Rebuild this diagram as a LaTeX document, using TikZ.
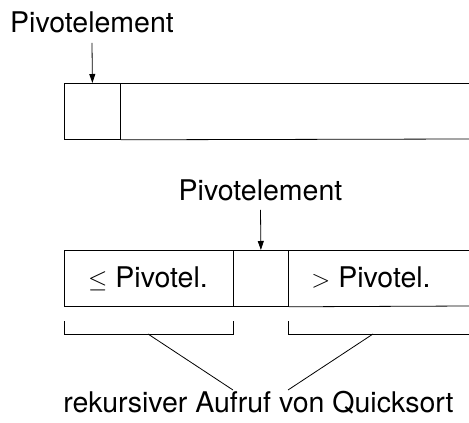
\documentclass[tikz,border=0pt]{standalone}
\usepackage{fontspec}
\setmainfont{TeX Gyre Heros}
\usetikzlibrary{arrows.meta}
\begin{document}
\begin{tikzpicture}[x=1pt,y=-1pt, line width=0.8pt,
  lbl/.style={font=\fontsize{28.5}{32}\selectfont, inner sep=0pt, anchor=base},
  cell/.style={draw, minimum height=56pt, inner sep=0pt, anchor=north west},
  arr/.style={-{Triangle[length=9pt,width=6pt]}}]
\useasboundingbox (0,0) rectangle (469,423);
% top row
\node[lbl] (t1) at (92,32) {Pivotelement};
\node[cell, minimum width=56pt] (p1) at (64,83) {};
\coordinate (e1t) at (469,83);
\coordinate (e1b) at (469,139);
\draw (p1.north east) -- (e1t);
\draw (p1.south east) -- (e1b);
\draw[arr] ([yshift=-10pt]t1.south) -- (p1.north);
% middle row
\node[lbl] (t2) at (260.5,200) {Pivotelement};
\node[cell, minimum width=169pt] (L) at (64,250) {};
\node[cell, minimum width=55pt] (p2) at (233,250) {};
\coordinate (e2t) at (469,250);
\coordinate (e2b) at (469,306);
\draw (p2.north east) -- (e2t);
\draw (p2.south east) -- (e2b);
\node[lbl] (lt) at (148,287) {$\leq$ Pivotel.};
\node[lbl] (rt) at (371,287) {$>$ Pivotel.};
\draw[arr] ([yshift=-9pt]t2.south) -- (p2.north);
% brackets
\coordinate (b1a) at (64,321);
\coordinate (b1b) at (233,321);
\coordinate (b2a) at (288,321);
\coordinate (b2e) at (469,334);
\draw (b1a) -- ++(0,13) -| (b1b);
\draw (b2a) -- ++(0,13) -- (b2e);
\coordinate (m1) at (148,334);
\coordinate (m2) at (373,334);
\node[lbl] (bt) at (258.5,412) {rekursiver Aufruf von Quicksort};
\coordinate (c1) at (233,390);
\coordinate (c2) at (288,390);
\draw (m1) -- (c1);
\draw (m2) -- (c2);
\end{tikzpicture}
\end{document}
